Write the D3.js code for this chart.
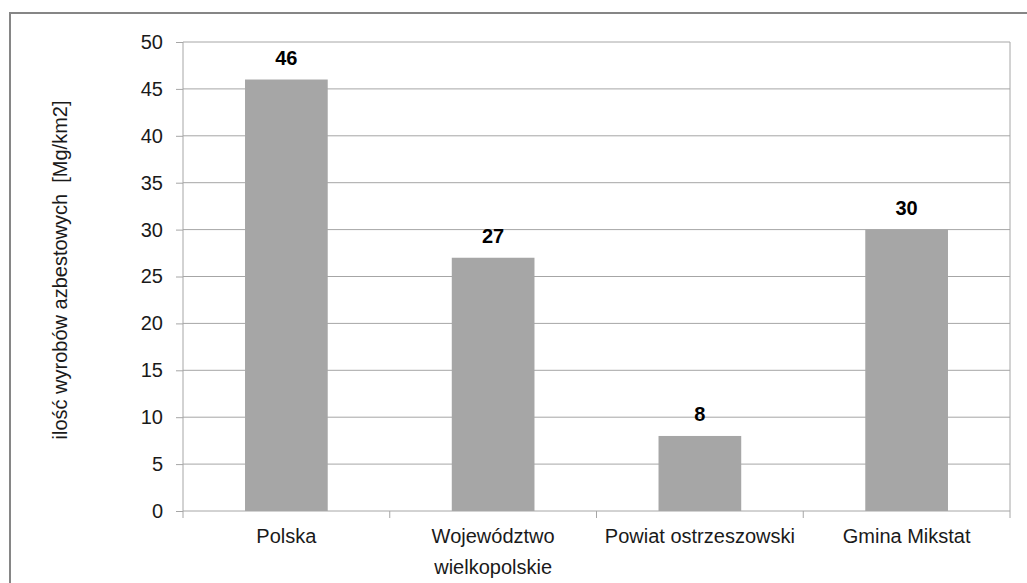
<!DOCTYPE html>
<html>
<head>
<meta charset="utf-8">
<script src="https://cdn.jsdelivr.net/npm/d3@7"></script>
<style>
  body { margin: 0; background: #fff; }
  svg { display: block; font-family: 'Liberation Sans', Arial, sans-serif; }
</style>
</head>
<body>
<svg id="chart" width="1027" height="583"></svg>
<script>
// chart data
const categories = [['Polska'], ['Województwo', 'wielkopolskie'], ['Powiat ostrzeszowski'], ['Gmina Mikstat']]
const values = [46, 27, 8, 30]
const yTicks = [0, 5, 10, 15, 20, 25, 30, 35, 40, 45, 50]
const yTitle = 'ilość wyrobów azbestowych  [Mg/km2]'

let svg = d3.select('#chart')
let margin = {top: 42, right: 17, bottom: 72, left: 183}
let width = 1027 - margin.left - margin.right
let height = 583 - margin.top - margin.bottom

// outer chart border
svg.append('rect')
  .attr('x', 10).attr('y', 13)
  .attr('width', 1030).attr('height', 600)
  .attr('fill', 'none')
  .attr('stroke', '#868686')
  .attr('stroke-width', 2)

let g = svg.append('g')
  .attr('transform', 'translate(' + margin.left + ',' + margin.top + ')')

let x = d3.scaleBand().domain(d3.range(categories.length)).range([0, width])
let y = d3.scaleLinear().domain([0, 50]).range([height, 0])

// gridlines
g.append('g')
  .selectAll('line')
  .data(yTicks.slice(1))
  .join('line')
    .attr('x1', 0).attr('x2', width)
    .attr('y1', d => y(d)).attr('y2', d => y(d))
    .attr('stroke', '#a6a6a6')
    .attr('stroke-width', 1)

// right plot border
g.append('line')
  .attr('x1', width).attr('x2', width)
  .attr('y1', 0).attr('y2', height)
  .attr('stroke', '#a6a6a6')

// bars
let barW = x.bandwidth() * 0.4
g.selectAll('.bar')
  .data(values)
  .join('rect')
    .attr('class', 'bar')
    .attr('x', (d, i) => x(i) + (x.bandwidth() - barW) / 2)
    .attr('y', d => y(d))
    .attr('width', barW)
    .attr('height', d => height - y(d))
    .attr('fill', '#a6a6a6')

// value labels
g.selectAll('.val')
  .data(values)
  .join('text')
    .attr('class', 'val')
    .attr('x', (d, i) => x(i) + x.bandwidth() / 2)
    .attr('y', d => y(d) - 15)
    .attr('text-anchor', 'middle')
    .attr('font-size', 20)
    .attr('font-weight', 'bold')
    .attr('fill', '#000')
    .text(d => d)

// y axis
let yAxis = g.append('g')
  .call(d3.axisLeft(y).tickValues(yTicks).tickSize(7).tickPadding(13))
yAxis.select('.domain').attr('stroke', '#a6a6a6').attr('d', 'M0,0V' + height)
yAxis.selectAll('.tick line').attr('stroke', '#a6a6a6')
yAxis.selectAll('.tick text')
  .attr('font-size', 20)
  .attr('font-family', "'Liberation Sans', Arial, sans-serif")
  .attr('fill', '#1a1a1a')

// x axis
let xAxisG = g.append('g').attr('transform', 'translate(0,' + height + ')')
xAxisG.append('line')
  .attr('x1', 0).attr('x2', width)
  .attr('stroke', '#a6a6a6')
xAxisG.selectAll('.xtick')
  .data(d3.range(categories.length + 1))
  .join('line')
    .attr('class', 'xtick')
    .attr('x1', i => i * x.step()).attr('x2', i => i * x.step())
    .attr('y1', 0).attr('y2', 7)
    .attr('stroke', '#a6a6a6')

let xl = xAxisG.selectAll('.xlab')
  .data(categories)
  .join('text')
    .attr('class', 'xlab')
    .attr('text-anchor', 'middle')
    .attr('font-size', 20)
    .attr('fill', '#1a1a1a')
    .attr('transform', (d, i) => 'translate(' + (x(i) + x.bandwidth() / 2) + ',32)')
xl.selectAll('tspan')
  .data(d => d)
  .join('tspan')
    .attr('x', 0)
    .attr('dy', (d, i) => i === 0 ? 0 : 31)
    .text(d => d)

// y axis title
svg.append('text')
  .attr('transform', 'translate(67,270) rotate(-90)')
  .attr('text-anchor', 'middle')
  .attr('font-size', 20)
  .attr('fill', '#1a1a1a')
  .style('white-space', 'pre')
  .text(yTitle)
</script>
</body>
</html>
